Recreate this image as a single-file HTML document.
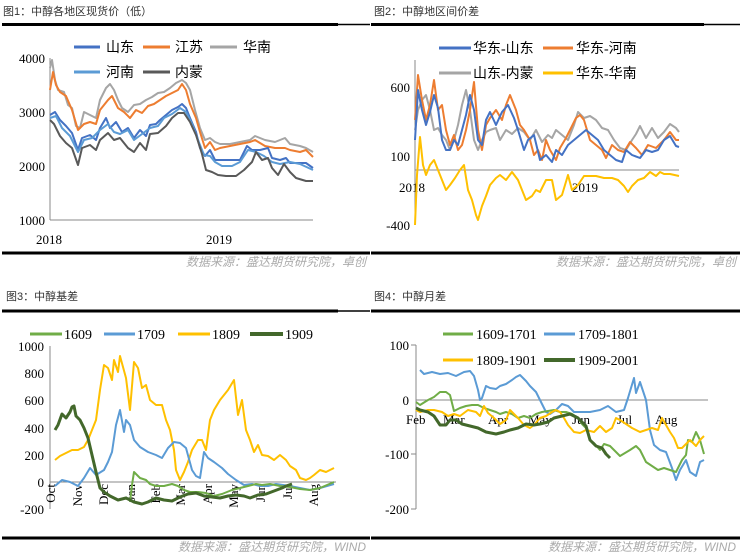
<!DOCTYPE html>
<html><head><meta charset="utf-8"><style>
body{margin:0;background:#fff;}
svg{display:block;}
.t{font-family:"Liberation Sans","Noto Sans CJK SC",sans-serif;font-size:11px;fill:#333;}
.s{font-family:"Liberation Sans","Noto Sans CJK SC",sans-serif;font-size:12px;fill:#aaa;font-style:italic;}
.k{font-family:"Liberation Serif",serif;font-size:13px;fill:#000;}
.lg{font-family:"Liberation Serif","Noto Sans CJK SC",sans-serif;font-size:14px;fill:#000;}
polyline{fill:none;stroke-linejoin:round;}
</style></head><body>
<svg width="742" height="555" viewBox="0 0 742 555">
<!-- Panel 1 -->
<text class="t" x="3" y="15">图1：中醇各地区现货价（低）</text>
<line x1="2" y1="24.5" x2="338" y2="24.5" stroke="#000" stroke-width="3"/><line x1="338" y1="24.5" x2="370" y2="24.5" stroke="#000" stroke-width="1.5"/>
<line x1="50" y1="58" x2="50" y2="220" stroke="#888"/><line x1="50" y1="220" x2="313" y2="220" stroke="#888"/>
<text class="k" x="45" y="63" text-anchor="end">4000</text><text class="k" x="45" y="117" text-anchor="end">3000</text><text class="k" x="45" y="171" text-anchor="end">2000</text><text class="k" x="45" y="225" text-anchor="end">1000</text>
<text class="k" x="36" y="244">2018</text><text class="k" x="206" y="244">2019</text>
<line x1="74" y1="47" x2="100" y2="47" stroke="#4472c4" stroke-width="3"/><text class="lg" x="106" y="52">山东</text>
<line x1="143" y1="47" x2="170" y2="47" stroke="#ed7d31" stroke-width="3"/><text class="lg" x="175" y="52">江苏</text>
<line x1="210" y1="47" x2="237" y2="47" stroke="#a5a5a5" stroke-width="3"/><text class="lg" x="243" y="52">华南</text>
<line x1="74" y1="72" x2="100" y2="72" stroke="#5b9bd5" stroke-width="3"/><text class="lg" x="106" y="77">河南</text>
<line x1="143" y1="72" x2="170" y2="72" stroke="#595959" stroke-width="3"/><text class="lg" x="175" y="77">内蒙</text>
<polyline stroke="#a5a5a5" stroke-width="2" points="50,68 52,60 55,80 58,90 64,92 68,105 72,108 76,126 80,128 84,112 90,115 96,118 100,100 106,88 110,84 114,90 118,100 122,108 128,112 134,105 140,104 146,100 152,97 158,93 164,92 170,88 176,83 182,80 186,83 190,90 195,110 200,128 205,140 210,138 215,142 220,144 230,144 240,142 250,140 255,136 265,140 275,142 285,138 290,144 300,146 306,148 313,152"/>
<polyline stroke="#ed7d31" stroke-width="2" points="50,90 53,72 56,85 60,92 66,96 72,110 78,130 84,124 90,122 96,124 100,110 108,100 112,96 118,108 124,112 130,118 136,110 142,113 148,106 154,104 160,100 166,96 172,93 178,90 182,84 186,90 190,104 196,118 200,132 205,148 210,142 215,150 220,148 230,146 240,144 250,142 255,140 265,146 275,148 285,148 290,150 300,152 306,150 313,157"/>
<polyline stroke="#4472c4" stroke-width="2" points="50,115 55,112 60,120 66,126 72,133 78,150 82,138 90,135 96,140 100,128 106,118 110,128 116,122 122,132 128,128 134,138 140,130 146,136 150,125 156,124 160,120 166,115 172,110 178,107 182,104 186,108 190,118 196,132 200,148 205,156 210,150 215,160 220,160 230,160 240,160 247,146 252,150 260,150 268,148 272,158 280,160 286,158 290,163 300,163 306,163 313,168"/>
<polyline stroke="#5b9bd5" stroke-width="2" points="50,118 56,116 62,128 70,136 78,152 84,140 92,138 100,130 108,124 114,132 120,134 128,130 134,140 142,134 150,128 158,126 164,118 172,114 180,108 186,112 192,124 198,140 204,155 210,156 215,162 222,166 232,166 240,162 248,150 256,152 264,156 272,162 280,164 290,162 300,164 313,170"/>
<polyline stroke="#595959" stroke-width="2" points="50,120 54,124 60,136 66,143 72,148 78,165 82,148 90,145 96,150 100,140 108,133 114,140 120,138 128,148 134,152 140,143 146,150 150,134 158,133 166,126 172,118 178,113 184,113 190,122 196,135 202,154 206,170 212,172 218,175 226,176 236,176 244,170 252,162 256,152 262,160 268,158 272,168 278,175 284,164 290,172 296,178 306,181 313,181"/>
<line x1="2" y1="253" x2="370" y2="253" stroke="#000" stroke-width="3"/>
<text class="s" x="366" y="266" text-anchor="end">数据来源：盛达期货研究院，卓创</text>

<!-- Panel 2 -->
<text class="t" x="374" y="15">图2：中醇地区间价差</text>
<line x1="371" y1="24.5" x2="704" y2="24.5" stroke="#000" stroke-width="3"/><line x1="704" y1="24.5" x2="740" y2="24.5" stroke="#000" stroke-width="1.5"/>
<line x1="415" y1="60" x2="415" y2="225" stroke="#888"/><line x1="415" y1="170" x2="679" y2="170" stroke="#888"/>
<text class="k" x="410" y="92" text-anchor="end">600</text><text class="k" x="410" y="161" text-anchor="end">100</text><text class="k" x="410" y="230" text-anchor="end">-400</text>
<text class="k" x="399" y="192">2018</text><text class="k" x="572" y="192">2019</text>
<line x1="439" y1="48" x2="471" y2="48" stroke="#4472c4" stroke-width="3"/><text class="lg" x="473" y="53">华东-山东</text>
<line x1="543" y1="48" x2="573" y2="48" stroke="#ed7d31" stroke-width="3"/><text class="lg" x="576" y="53">华东-河南</text>
<line x1="439" y1="73" x2="471" y2="73" stroke="#a5a5a5" stroke-width="3"/><text class="lg" x="473" y="78">山东-内蒙</text>
<line x1="543" y1="73" x2="573" y2="73" stroke="#ffc000" stroke-width="3"/><text class="lg" x="576" y="78">华东-华南</text>
<polyline stroke="#a5a5a5" stroke-width="2" points="415,130 418,110 422,100 426,95 430,110 434,130 438,128 442,135 446,140 450,150 454,140 458,125 462,105 466,90 470,110 474,140 478,150 482,140 486,132 490,130 496,128 500,140 506,130 512,134 518,128 524,132 530,140 536,130 542,142 548,135 552,138 556,130 562,135 568,140 574,125 578,112 584,118 590,116 596,120 602,128 608,130 614,140 620,148 626,150 632,140 636,134 640,126 646,138 652,128 658,138 664,132 670,124 676,128 679,132"/>
<polyline stroke="#ed7d31" stroke-width="2" points="415,120 418,75 422,100 426,120 430,105 434,80 438,110 442,105 446,130 450,145 454,135 458,150 462,145 466,130 470,110 474,82 478,130 482,150 486,125 490,118 496,110 502,120 506,105 510,95 516,110 520,125 524,130 530,140 534,155 538,150 542,160 546,140 550,150 556,160 560,148 566,138 570,130 576,118 580,115 584,120 590,140 596,145 602,150 606,158 612,145 618,150 624,152 630,142 636,148 642,155 648,145 656,148 664,140 670,132 676,140 679,140"/>
<polyline stroke="#4472c4" stroke-width="2" points="415,140 418,90 422,110 426,125 430,112 434,95 438,108 442,140 446,150 450,150 454,140 458,145 462,130 466,115 470,95 474,110 478,140 482,145 486,120 490,112 496,125 502,112 508,105 514,118 518,130 524,150 528,140 534,135 540,160 546,155 552,162 556,150 562,155 568,145 574,140 580,135 586,130 592,135 598,140 604,150 610,155 616,160 622,162 626,150 632,155 640,158 646,150 652,152 658,150 664,140 670,136 676,146 679,147"/>
<polyline stroke="#ffc000" stroke-width="2" points="415,225 417,175 420,137 423,165 426,175 430,165 434,160 438,170 442,180 446,190 450,185 455,178 460,170 464,165 468,190 472,200 476,215 478,220 482,206 486,196 490,185 496,178 500,175 506,180 512,172 518,180 522,190 526,200 532,196 536,190 540,192 546,180 552,180 556,200 562,195 568,175 572,190 578,185 584,176 590,176 596,176 604,178 612,178 618,180 624,186 628,192 632,186 638,180 644,178 650,172 656,176 660,172 664,174 670,174 679,176"/>
<line x1="371" y1="253" x2="740" y2="253" stroke="#000" stroke-width="3"/>
<text class="s" x="736" y="266" text-anchor="end">数据来源：盛达期货研究院，卓创</text>

<!-- Panel 3 -->
<text class="t" x="6" y="300">图3：中醇基差</text>
<line x1="2" y1="311" x2="338" y2="311" stroke="#000" stroke-width="3"/><line x1="338" y1="311" x2="370" y2="311" stroke="#000" stroke-width="1.5"/>
<line x1="50" y1="346" x2="50" y2="509" stroke="#888"/><line x1="50" y1="482" x2="336" y2="482" stroke="#888"/>
<text class="k" x="44" y="351" text-anchor="end">1000</text><text class="k" x="44" y="378" text-anchor="end">800</text><text class="k" x="44" y="405" text-anchor="end">600</text><text class="k" x="44" y="433" text-anchor="end">400</text><text class="k" x="44" y="460" text-anchor="end">200</text><text class="k" x="44" y="487" text-anchor="end">0</text><text class="k" x="44" y="514" text-anchor="end">-200</text>
<g class="k">
<text transform="translate(55,484) rotate(-90)" text-anchor="end">Oct</text>
<text transform="translate(82,484) rotate(-90)" text-anchor="end">Nov</text>
<text transform="translate(108,484) rotate(-90)" text-anchor="end">Dec</text>
<text transform="translate(135,484) rotate(-90)" text-anchor="end">Jan</text>
<text transform="translate(160,484) rotate(-90)" text-anchor="end">Feb</text>
<text transform="translate(185,484) rotate(-90)" text-anchor="end">Mar</text>
<text transform="translate(212,484) rotate(-90)" text-anchor="end">Apr</text>
<text transform="translate(238,484) rotate(-90)" text-anchor="end">May</text>
<text transform="translate(265,484) rotate(-90)" text-anchor="end">Jun</text>
<text transform="translate(292,484) rotate(-90)" text-anchor="end">Jul</text>
<text transform="translate(318,484) rotate(-90)" text-anchor="end">Aug</text>
</g>
<line x1="30" y1="334" x2="62" y2="334" stroke="#70ad47" stroke-width="3"/><text class="lg" x="64" y="339">1609</text>
<line x1="104" y1="334" x2="135" y2="334" stroke="#5b9bd5" stroke-width="3"/><text class="lg" x="137" y="339">1709</text>
<line x1="178" y1="334" x2="210" y2="334" stroke="#ffc000" stroke-width="3"/><text class="lg" x="212" y="339">1809</text>
<line x1="250" y1="334" x2="283" y2="334" stroke="#43682b" stroke-width="4"/><text class="lg" x="285" y="339">1909</text>
<polyline stroke="#ffc000" stroke-width="2" points="55,460 60,456 66,453 72,450 78,450 84,447 88,440 92,430 96,420 100,390 104,365 108,368 112,380 114,360 118,372 120,356 126,378 130,410 134,362 138,368 142,388 146,385 150,400 156,405 162,405 166,420 170,430 174,450 176,470 180,480 184,472 188,462 192,450 198,440 202,440 206,450 210,420 214,410 220,400 228,390 234,380 238,415 242,400 246,430 250,440 254,452 258,445 262,455 268,456 274,460 280,455 286,460 290,466 296,470 300,478 306,480 310,478 314,475 320,470 326,472 334,468"/>
<polyline stroke="#5b9bd5" stroke-width="2" points="55,486 62,480 70,482 78,486 84,478 90,468 96,475 104,470 108,462 112,452 116,425 120,410 124,432 126,420 130,425 134,440 140,447 148,452 156,455 162,458 168,448 174,442 180,443 186,448 192,470 196,476 200,478 204,452 208,458 214,462 222,468 228,474 236,480 244,485 252,484 260,486 268,486 276,484 290,486 300,488 310,490 320,488 334,484"/>
<polyline stroke="#70ad47" stroke-width="2" points="130,502 132,485 134,472 140,478 146,480 150,484 156,486 164,486 172,484 178,486 184,490 190,492 198,492 206,493 214,496 222,494 232,490 240,488 248,486 256,484 262,485 270,484 280,486 290,487 300,489 310,490 320,488 334,482"/>
<polyline stroke="#43682b" stroke-width="3" points="55,430 58,425 62,414 66,418 70,412 72,407 74,406 76,416 80,420 84,428 88,438 92,455 96,472 100,488 104,492 110,496 118,500 126,498 134,502 142,504 148,502 156,498 164,500 172,501 180,497 188,494 196,493 204,496 212,497 220,498 228,496 236,495 244,496 250,498 258,495 266,494 274,491 282,488 286,486 292,484"/>
<line x1="2" y1="538" x2="370" y2="538" stroke="#000" stroke-width="3"/>
<text class="s" x="366" y="551" text-anchor="end">数据来源：盛达期货研究院，WIND</text>

<!-- Panel 4 -->
<text class="t" x="374" y="300">图4：中醇月差</text>
<line x1="371" y1="311" x2="740" y2="311" stroke="#000" stroke-width="3"/>
<line x1="416" y1="345" x2="416" y2="509" stroke="#888"/><line x1="416" y1="400" x2="708" y2="400" stroke="#888"/>
<line x1="411" y1="345" x2="416" y2="345" stroke="#888"/><line x1="411" y1="454" x2="416" y2="454" stroke="#888"/><line x1="411" y1="509" x2="416" y2="509" stroke="#888"/>
<text class="k" x="409" y="350" text-anchor="end">100</text><text class="k" x="409" y="405" text-anchor="end">0</text><text class="k" x="409" y="459" text-anchor="end">-100</text><text class="k" x="409" y="514" text-anchor="end">-200</text>
<g class="k"><text x="406" y="424">Feb</text><text x="443" y="424">Mar</text><text x="488" y="424">Apr</text><text x="528" y="424">May</text><text x="572" y="424">Jun</text><text x="617" y="424">Jul</text><text x="655" y="424">Aug</text></g>
<line x1="443" y1="334" x2="473" y2="334" stroke="#70ad47" stroke-width="3"/><text class="lg" x="476" y="339">1609-1701</text>
<line x1="544" y1="334" x2="575" y2="334" stroke="#5b9bd5" stroke-width="3"/><text class="lg" x="578" y="339">1709-1801</text>
<line x1="443" y1="360" x2="473" y2="360" stroke="#ffc000" stroke-width="3"/><text class="lg" x="476" y="365">1809-1901</text>
<line x1="544" y1="360" x2="575" y2="360" stroke="#43682b" stroke-width="4"/><text class="lg" x="578" y="365">1909-2001</text>
<polyline stroke="#5b9bd5" stroke-width="2" points="420,370 424,374 432,372 440,374 448,373 456,376 464,372 470,371 474,376 478,390 480,400 482,398 486,386 490,388 496,389 500,386 506,384 512,380 516,377 520,375 526,381 530,386 536,392 540,400 546,412 550,414 556,410 562,404 568,406 574,412 580,412 590,412 600,410 608,406 616,412 624,410 628,398 634,378 636,393 640,382 646,400 650,430 654,445 660,450 666,452 672,468 676,480 680,470 686,460 690,472 696,476 700,462 704,460"/>
<polyline stroke="#70ad47" stroke-width="2" points="416,402 420,405 428,400 434,397 440,392 446,392 450,395 454,411 460,408 466,406 472,405 478,405 484,408 490,410 496,412 500,414 506,412 512,414 518,418 524,416 530,418 536,414 542,412 548,411 554,410 560,412 566,412 572,414 578,418 582,424 586,428 590,440 594,443 600,450 604,444 610,446 616,452 620,456 630,450 636,446 640,450 646,462 652,466 658,470 664,468 670,470 676,472 682,460 686,455 688,440 692,442 696,432 700,440 704,454"/>
<polyline stroke="#ffc000" stroke-width="2" points="416,410 420,412 428,410 434,410 442,412 448,416 454,414 460,416 468,410 476,412 480,416 484,406 488,413 494,418 500,424 506,420 510,410 518,418 524,425 530,428 534,425 540,418 546,416 552,412 556,410 560,412 564,418 568,425 574,432 580,433 586,430 594,432 600,426 606,432 612,428 616,418 620,420 626,424 632,428 640,432 646,430 652,428 658,430 662,418 670,432 674,438 678,448 682,448 686,444 690,440 696,446 700,440 704,436"/>
<polyline stroke="#43682b" stroke-width="3" points="416,408 420,410 428,412 434,416 440,425 446,425 450,420 456,420 462,424 470,426 478,428 486,432 496,434 504,432 510,430 518,428 526,424 534,425 540,424 548,422 554,418 562,416 570,414 578,418 586,426 590,440 596,446 602,448 606,454 610,458"/>
<line x1="371" y1="538" x2="740" y2="538" stroke="#000" stroke-width="3"/>
<text class="s" x="736" y="551" text-anchor="end">数据来源：盛达期货研究院，WIND</text>
</svg>
</body></html>
